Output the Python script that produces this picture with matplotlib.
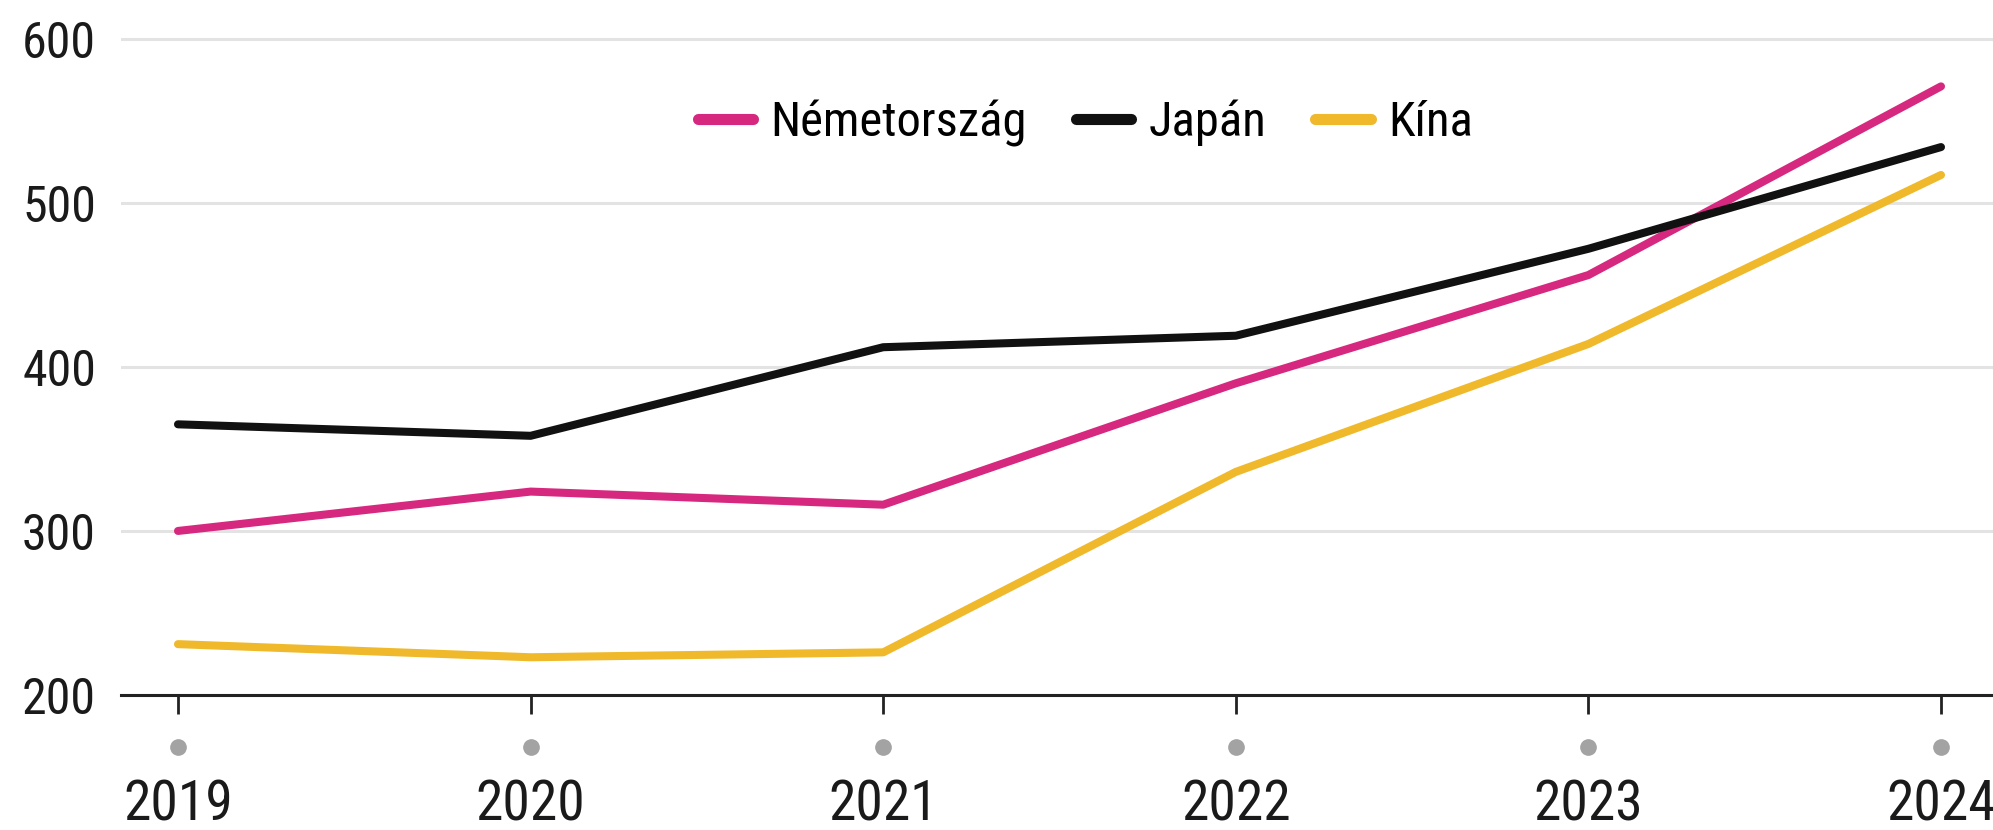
import matplotlib
matplotlib.use("Agg")
import matplotlib.pyplot as plt
from matplotlib.lines import Line2D
from matplotlib import font_manager

years = [2019, 2020, 2021, 2022, 2023, 2024]
germany = [300, 324, 316, 390, 456, 571]
japan = [365, 358, 412, 419, 472, 534]
china = [231, 223, 226, 336, 414, 517]
series_names = ["Németország", "Japán", "Kína"]
y_ticks = [200, 300, 400, 500, 600]

colors = ["#d6287f", "#111111", "#efb92b"]

names = {f.name for f in font_manager.fontManager.ttflist}
fam = ['DejaVu Sans']
for cand in ['Liberation Sans Narrow', 'Roboto Condensed', 'Open Sans Condensed', 'Noto Sans Condensed']:
    if cand in names:
        fam = [cand, 'DejaVu Sans']
        break
plt.rcParams['font.family'] = fam
plt.rcParams['font.stretch'] = 'condensed'

fig = plt.figure(figsize=(19.93, 8.30), dpi=100)
ax = fig.add_axes([121/1993, 1 - 695/830, 1 - 121/1993, (695 - 6)/830])

for vals, c, name in zip([germany, japan, china], colors, series_names):
    ax.plot(years, vals, color=c, lw=5.8, solid_capstyle='round', solid_joinstyle='round', label=name, zorder=3)

ax.set_xlim(2019 - 57/352.6, 2024 + 52/352.6)
ax.set_ylim(200, 620)
ax.set_yticks(y_ticks)
ax.set_xticks(years)
ax.set_xticklabels([str(y) for y in years])

ax.grid(axis='y', color='#e3e3e3', lw=2.2, zorder=0)
ax.grid(axis='x', visible=False)
for s in ['left', 'right', 'top']:
    ax.spines[s].set_visible(False)
ax.spines['bottom'].set_linewidth(2.2)
ax.spines['bottom'].set_color('#222222')
ax.spines['bottom'].set_zorder(4)

ax.tick_params(axis='y', length=0, pad=18, labelsize=36, labelcolor='#1a1a1a')
ax.tick_params(axis='x', length=14, width=2, color='#222222', pad=46, labelsize=40, labelcolor='#1a1a1a')

# gray dots under ticks
ax.plot(years, [168.3] * len(years), 'o', color='#a3a3a3', ms=11, clip_on=False, zorder=5)

handles = [Line2D([0], [0], color=c, lw=8, solid_capstyle='round') for c in colors]
leg = ax.legend(handles, series_names, loc='center', bbox_to_anchor=(0.515, 0.83), ncol=3,
                frameon=False, fontsize=35, handlelength=1.15, handletextpad=0.35,
                columnspacing=1.0)

fig.savefig("out.png", dpi=100, facecolor='white')
